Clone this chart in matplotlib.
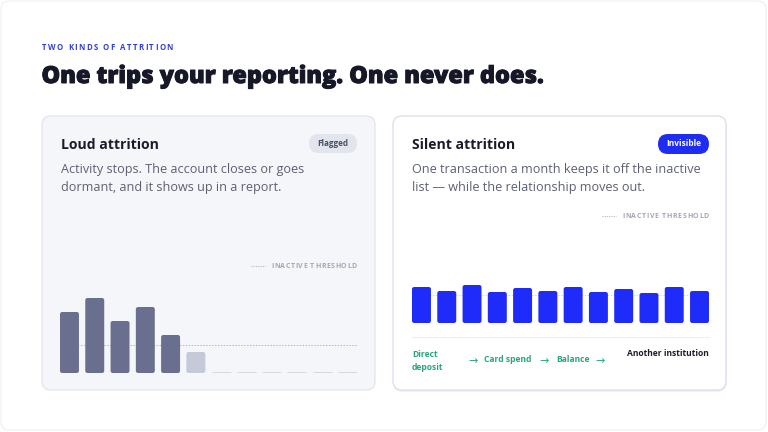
import matplotlib
matplotlib.use('Agg')
import matplotlib.pyplot as plt
from matplotlib.patches import FancyBboxPatch
from matplotlib.font_manager import FontProperties, findfont, get_font
import matplotlib.patheffects as pe
import numpy as np

plt.rcParams['font.family'] = ['Open Sans', 'DejaVu Sans']

# data
months = list(range(12))
loud_activity = [61, 75, 52, 66, 38, 21, 0, 0, 0, 0, 0, 0]
silent_activity = [36, 32, 38, 31, 35, 32, 36, 31, 34, 30, 36, 32]
inactive_threshold = 28
flow_steps = ['Direct\ndeposit', 'Card spend', 'Balance']
flow_end = 'Another institution'

W, H = 768, 432
fig = plt.figure(figsize=(7.68, 4.32), dpi=100)
fig.patch.set_facecolor('white')
ax = fig.add_axes([0, 0, 1, 1])
ax.set_xlim(0, W)
ax.set_ylim(H, 0)
ax.axis('off')


def rbox(x0, y0, x1, y1, r, **kw):
    p = FancyBboxPatch((x0, y0), x1 - x0, y1 - y0,
                       boxstyle=f'round,pad=0,rounding_size={r}', **kw)
    ax.add_patch(p)
    return p


def char_advances(s, size, weight):
    fp = FontProperties(family=['Open Sans', 'DejaVu Sans'], weight=weight, size=size)
    f = get_font(findfont(fp))
    f.set_size(size, 100)
    return [f.load_char(ord(c)).linearHoriAdvance / 65536 for c in s]


# letter-spaced caps text fitted between x0 and x1
def spaced(x0, x1, y, s, size, color, weight='bold'):
    adv = char_advances(s, size, weight)
    track = ((x1 - x0) - sum(adv)) / (len(s) - 1)
    x = x0
    for ch, a in zip(s, adv):
        if ch != ' ':
            ax.text(x, y, ch, fontsize=size, fontweight=weight, color=color,
                    ha='left', va='center', zorder=3)
        x += a + track


# outer frame
rbox(1, 1, W - 2, H - 2, 8, facecolor='white', edgecolor='#eeeff3', lw=0.8, zorder=0)

# header
spaced(42, 173, 47, 'TWO KINDS OF ATTRITION', 5.6, '#2f3fd8')
ax.text(41.5, 77, 'One trips your reporting. One never does.', fontsize=16.9,
        fontweight='heavy', color='#161827', va='center', ha='left',
        path_effects=[pe.withStroke(linewidth=0.7, foreground='#161827')])

# cards
rbox(42, 116, 375, 390, 9, facecolor='#f5f6fa', edgecolor='#e2e4eb', lw=0.9, zorder=1)
rbox(393.5, 117.5, 726.5, 392, 9, facecolor='#f1f2f7', edgecolor='none', lw=0, zorder=1)
rbox(393, 116, 726, 390, 9, facecolor='white', edgecolor='#d9dbef', lw=0.9, zorder=1)

# card texts
body = '#5d6075'
ax.text(61, 145, 'Loud attrition', fontsize=10.1, fontweight='bold', color='#1b1c2a', va='center', zorder=3)
ax.text(61, 169, 'Activity stops. The account closes or goes', fontsize=9.1, color=body, va='center', zorder=3)
ax.text(61, 187, 'dormant, and it shows up in a report.', fontsize=9.1, color=body, va='center', zorder=3)
ax.text(412, 145, 'Silent attrition', fontsize=10.1, fontweight='bold', color='#1b1c2a', va='center', zorder=3)
ax.text(412, 169, 'One transaction a month keeps it off the inactive', fontsize=9.1, color=body, va='center', zorder=3)
ax.text(412, 187, 'list \u2014 while the relationship moves out.', fontsize=9.1, color=body, va='center', zorder=3)

# badges
rbox(309, 134, 357, 153, 9.5, facecolor='#e3e5ec', edgecolor='none', zorder=2)
ax.text(333, 143.5, 'Flagged', fontsize=5.9, fontweight='bold', color='#4b4f66', ha='center', va='center', zorder=3)
rbox(658, 134, 709, 154, 10, facecolor='#1f2df2', edgecolor='none', zorder=2)
ax.text(683.5, 144, 'Invisible', fontsize=6.0, fontweight='bold', color='white', ha='center', va='center', zorder=3)

# threshold legends
spaced(271, 357, 266, 'INACTIVE THRESHOLD', 5.0, '#a3a6b8')
ax.plot([251, 265], [266, 266], color='#b8bbc9', lw=0.8, ls=(0, (1, 1)), zorder=3)
spaced(622, 709, 216, 'INACTIVE THRESHOLD', 5.0, '#a3a6b8')
ax.plot([602, 616], [216, 216], color='#b8bbc9', lw=0.8, ls=(0, (1, 1)), zorder=3)


def bar_axes(x0, x1, base, values, col_hi, col_lo, thr_color):
    hpx = 100
    bax = fig.add_axes([x0 / W, (H - base) / H, (x1 - x0) / W, hpx / H])
    bax.set_xlim(-0.375, 11.375)
    bax.set_ylim(0, hpx)
    bax.axis('off')
    bax.set_zorder(5)
    bax.patch.set_alpha(0)
    xpp = 11.75 / (x1 - x0)
    aspect = 1.0 / xpp
    vals = np.array(values)
    cols = [col_hi if v >= inactive_threshold else col_lo for v in vals]
    bars = bax.bar(months, vals, width=0.75, color=cols)
    for b in bars:
        if b.get_height() > 0:
            fb = FancyBboxPatch((b.get_x(), 0), b.get_width(), b.get_height(),
                                boxstyle=f'round,pad=0,rounding_size={2.2 * xpp}',
                                mutation_aspect=aspect, facecolor=b.get_facecolor(),
                                edgecolor='none', zorder=3)
            bax.add_patch(fb)
        b.remove()
    for m, v in zip(months, vals):
        if v == 0:
            bax.plot([m - 0.375, m + 0.375], [0.2, 0.2], color='#d3d5de', lw=2,
                     solid_capstyle='butt', zorder=3)
    bax.plot([-0.375, 11.375], [inactive_threshold] * 2, color=thr_color, lw=0.7,
             ls=(0, (1.5, 1.5)), zorder=2)
    return bax


bar_axes(60, 357, 373, loud_activity, '#6b6f8f', '#c6c9d7', '#b3b6c6')
bar_axes(412, 709, 323, silent_activity, '#1f2bf8', '#1f2bf8', '#d0d4ee')

# flow row
ax.plot([412, 709], [337, 337], color='#eeeff4', lw=0.8, zorder=3)
green = '#27a77c'
fs = 6.1
ax.text(412, 361, flow_steps[0], fontsize=fs, fontweight='bold', color=green,
        va='center', linespacing=1.6, zorder=3)
ax.text(484, 360, flow_steps[1], fontsize=fs, fontweight='bold', color=green, va='center', zorder=3)
ax.text(556, 360, flow_steps[2], fontsize=fs, fontweight='bold', color=green, va='center', zorder=3)
for arrow_x in (468, 539, 595):
    ax.text(arrow_x, 361.5, '\u2192', fontsize=8, color=green, va='center', ha='left',
            family=['DejaVu Sans'], zorder=3)
ax.text(709, 354, flow_end, fontsize=fs, fontweight='bold', color='#1c1d2b', ha='right', va='center', zorder=3)

fig.savefig('out.png', dpi=100, facecolor='white')
